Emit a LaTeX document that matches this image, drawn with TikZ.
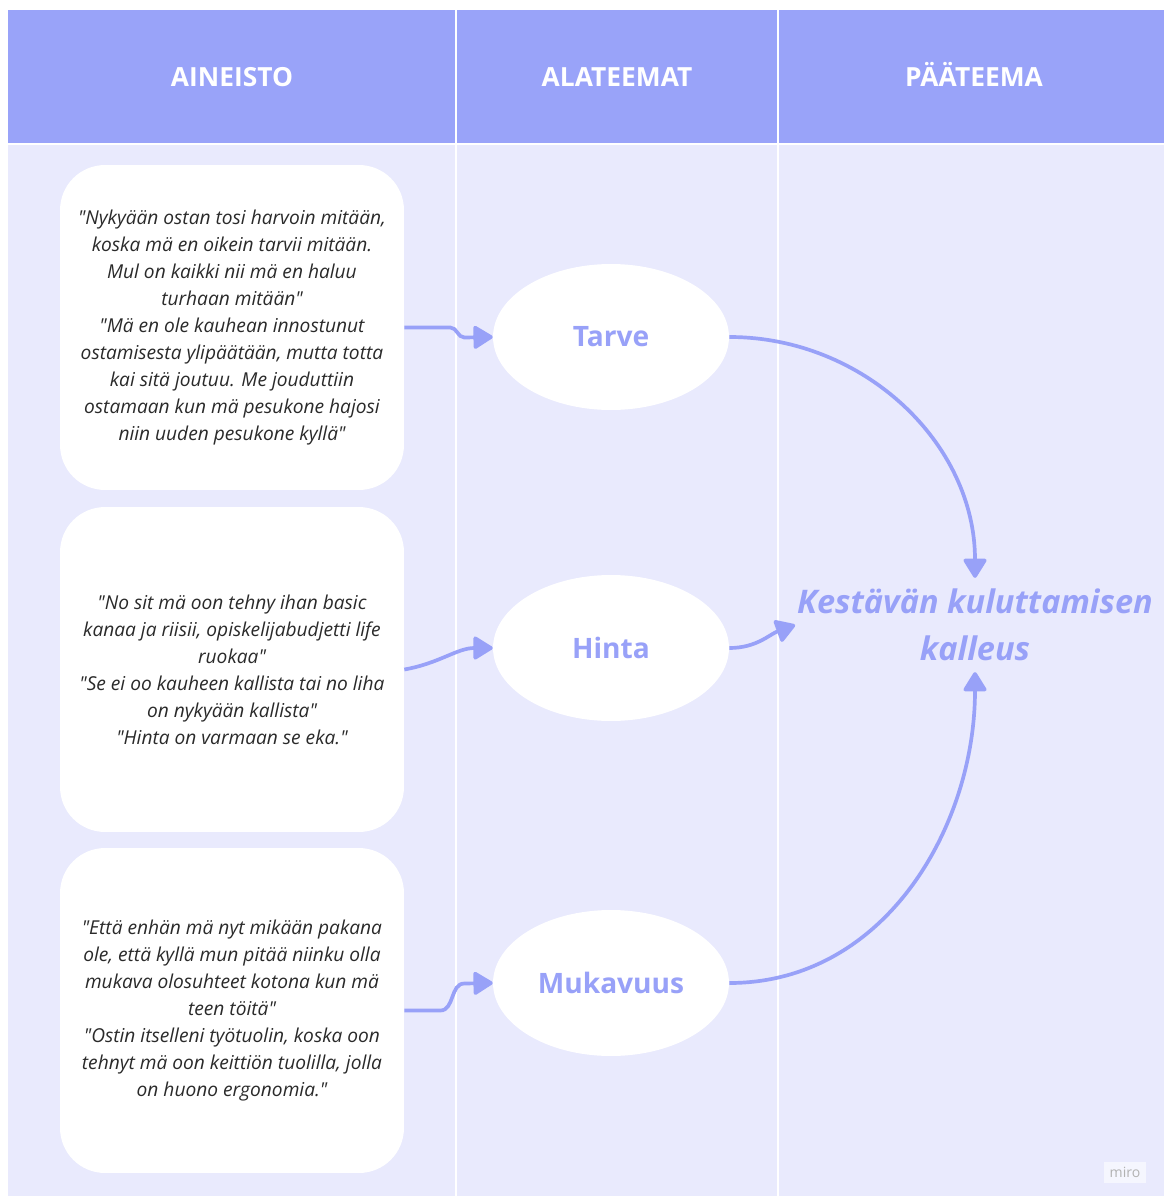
\documentclass[tikz,border=0pt]{standalone}
\usepackage{fontspec}
\setmainfont{Open Sans}
\usetikzlibrary{arrows.meta,shapes.geometric,positioning}
\definecolor{headblue}{HTML}{99A3F9}
\definecolor{bodyblue}{HTML}{E9EAFD}
\definecolor{linkblue}{HTML}{98A1F8}
\definecolor{quotegray}{HTML}{2A2A2A}
\newcommand{\dq}{\textquotedbl}
\tikzset{
  header/.style={text=white, text height=11pt, text depth=0pt,
    font=\bfseries\fontsize{15}{18}\selectfont},
  quote/.style={rectangle, rounded corners=0.9cm, fill=white,
    minimum width=6.88cm, minimum height=6.5cm, align=center,
    text=quotegray, font=\itshape\fontsize{10.9}{15.4}\selectfont},
  theme/.style={ellipse, fill=white, minimum width=4.72cm, minimum height=2.92cm,
    text=linkblue, font=\bfseries\fontsize{16}{19}\selectfont},
  link/.style={draw=linkblue, line width=2.1pt,
    -{Triangle[length=0.42cm, width=0.5cm, round]}}
}

\begin{document}
\begin{tikzpicture}[x=0.02cm, y=-0.02cm]
\useasboundingbox (0,0) rectangle (1164,1196);

% Background and columns
\fill[bodyblue] (8,143) rectangle (1164,1196);
\fill[headblue] (8,10) rectangle (1164,143);
\draw[white, line width=1.2pt] (8,144) -- (1164,144);
\draw[white, line width=1.2pt] (456,10) -- (456,1196);
\draw[white, line width=1.2pt] (778,10) -- (778,1196);

% Headers
\node[header] (h1) at (232,77) {AINEISTO};
\node[header] (h2) at (617,77) {ALATEEMAT};
\node[header] (h3) at (974,77) {PÄÄTEEMA};

% Quotes
\node[quote] (q1) at (232,327.5) {\dq Nykyään ostan tosi harvoin mitään,\\koska mä en oikein tarvii mitään.\\Mul on kaikki nii mä en haluu\\turhaan mitään\dq\\\dq Mä en ole kauhean innostunut\\ostamisesta ylipäätään, mutta totta\\kai sitä joutuu. Me jouduttiin\\ostamaan kun mä pesukone hajosi\\niin uuden pesukone kyllä\dq};
\node[quote] (q2) at (232,669.5) {\dq No sit mä oon tehny ihan basic\\kanaa ja riisii, opiskelijabudjetti life\\ruokaa\dq\\\dq Se ei oo kauheen kallista tai no liha\\on nykyään kallista\dq\\\dq Hinta on varmaan se eka.\dq};
\node[quote] (q3) at (232,1010.5) {\dq Että enhän mä nyt mikään pakana\\ole, että kyllä mun pitää niinku olla\\mukava olosuhteet kotona kun mä\\teen töitä\dq\\\dq Ostin itselleni työtuolin, koska oon\\tehnyt mä oon keittiön tuolilla, jolla\\on huono ergonomia.\dq};

% Sub themes
\node[theme] (tarve) at (611,337) {Tarve};
\node[theme] (hinta) at (611,648) {Hinta};
\node[theme] (mukavuus) at (611,983) {Mukavuus};

% Main theme
\node[text=linkblue, align=center, inner xsep=1pt, inner ysep=6pt,
  font=\bfseries\itshape\fontsize{18.5}{27}\selectfont] (kalleus) at (975,625)
  {Kestävän kuluttamisen\\kalleus};

% Arrows
\draw[link] (q1.east) -- ++(46,0) to[out=0,in=180] ++(14,10) -- (tarve.west);
\draw[link] (q2.east) to[out=10,in=180] (hinta.west);
\draw[link] (q3.east) -- ++(36,0) to[out=0,in=180] ++(24,-27) -- (mukavuus.west);
\draw[link] (tarve.east) to[out=0,in=90] (kalleus.north);
\draw[link] (hinta.east) to[out=0,in=200] (kalleus.west);
\draw[link] (mukavuus.east) to[out=0,in=-90] (kalleus.south);

% Logo
\node[fill=white!55!bodyblue, text=gray!60, inner sep=3pt,
  font=\fontsize{8}{10}\selectfont] (miro) at (1125,1172) {miro};
\end{tikzpicture}
\end{document}
